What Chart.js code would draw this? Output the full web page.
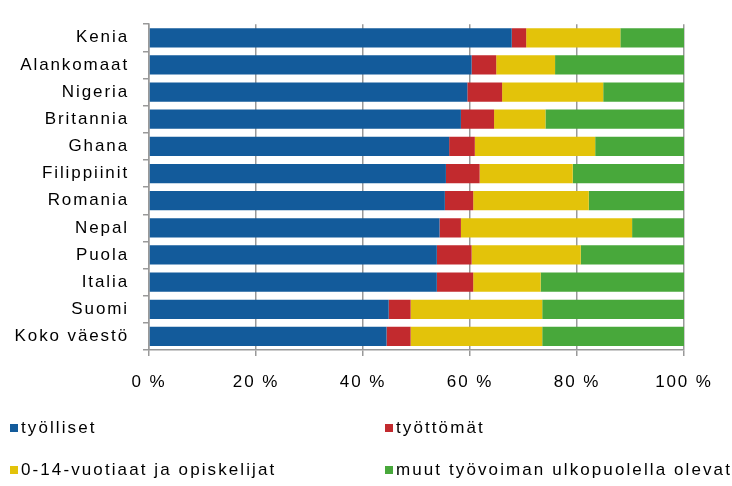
<!DOCTYPE html>
<html>
<head>
<meta charset="utf-8">
<script src="https://cdn.jsdelivr.net/npm/chart.js@4"></script>
<style>
  body { margin: 0; background: #fff; }
  #wrap { position: relative; width: 732px; height: 486px; }
  .leg { position: absolute; font: 17px "Liberation Sans", Arial, sans-serif; letter-spacing: 2.1px; color: #000; white-space: nowrap; line-height: 20px; }
  .leg i { display: inline-block; width: 8px; height: 8px; margin-right: 3px; vertical-align: 1px; }
</style>
</head>
<body>
<div id="wrap">
  <canvas id="myChart" width="732" height="486"></canvas>
</div>
<script>
const categories = ["Kenia", "Alankomaat", "Nigeria", "Britannia", "Ghana", "Filippiinit",
  "Romania", "Nepal", "Puola", "Italia", "Suomi", "Koko väestö"];
const seriesNames = ["työlliset", "työttömät", "0-14-vuotiaat ja opiskelijat", "muut työvoiman ulkopuolella olevat"];
const tyolliset = [67.8, 60.3, 59.5, 58.3, 56.1, 55.5, 55.3, 54.3, 53.8, 53.8, 44.8, 44.4];
const tyottomat = [2.7, 4.6, 6.5, 6.2, 4.8, 6.3, 5.3, 4.0, 6.5, 6.8, 4.1, 4.5];
const nuoretOpiskelijat = [17.6, 11.0, 18.9, 9.6, 22.5, 17.4, 21.6, 32.0, 20.4, 12.6, 24.6, 24.6];
const muut = [11.9, 24.1, 15.1, 25.9, 16.6, 20.8, 17.8, 9.7, 19.3, 26.8, 26.5, 26.5];
const colors = ["#135B9B", "#C22A2E", "#E3C30A", "#48A83B"];

const spacing = {
  id: "spacing",
  beforeDraw(chart) { chart.ctx.letterSpacing = "1.9px"; }
};

new Chart(document.getElementById("myChart"), {
  type: "bar",
  data: {
    labels: categories,
    datasets: [tyolliset, tyottomat, nuoretOpiskelijat, muut].map((d, i) => ({
      label: seriesNames[i],
      data: d,
      backgroundColor: colors[i],
      borderWidth: 0,
      barPercentage: 1,
      categoryPercentage: 0.71
    }))
  },
  options: {
    indexAxis: "y",
    responsive: false,
    animation: false,
    layout: { padding: { top: 13, right: 48, bottom: 0, left: 0 } },
    plugins: { legend: { display: false }, tooltip: { enabled: false } },
    scales: {
      x: {
        stacked: true,
        min: 0, max: 100,
        afterFit: (s) => { s.height = 136; },
        ticks: { stepSize: 20, padding: 16, color: "#000",
          font: { family: "Liberation Sans", size: 17 },
          callback: (v) => v + " %" },
        grid: { color: "#999", lineWidth: 1.5, tickLength: 6 },
        border: { color: "#999", width: 1.5 }
      },
      y: {
        stacked: true,
        afterFit: (s) => { s.width = 149; },
        ticks: { padding: 14, color: "#000",
          font: { family: "Liberation Sans", size: 17 } },
        grid: { drawOnChartArea: false, color: "#999", lineWidth: 1.5, tickLength: 6 },
        border: { color: "#999", width: 1.5 }
      }
    }
  },
  plugins: [spacing]
});

// legend in two columns under the chart
const legPos = [[10, 418], [385, 418], [10, 460], [385, 460]];
seriesNames.forEach((name, i) => {
  const el = document.createElement("div");
  el.className = "leg";
  el.style.left = legPos[i][0] + "px";
  el.style.top = legPos[i][1] + "px";
  el.innerHTML = '<i style="background:' + colors[i] + '"></i>' + name;
  document.getElementById("wrap").appendChild(el);
});
</script>
</body>
</html>
